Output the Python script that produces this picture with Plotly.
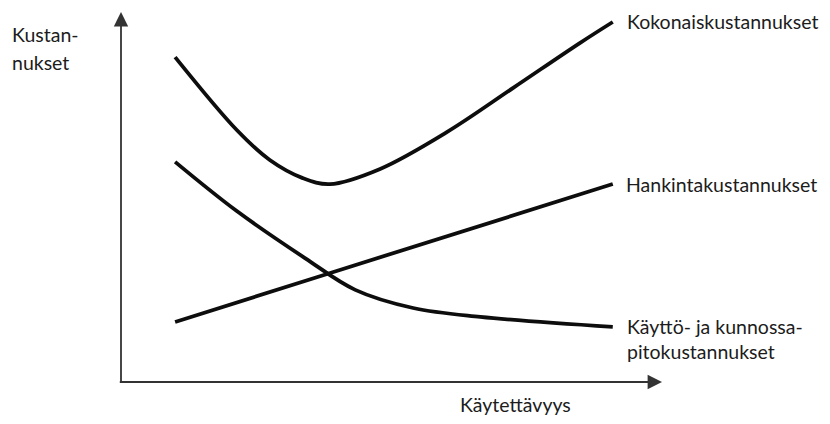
import plotly.graph_objects as go

# Data (abstract units)
total_x = [1.00, 2.14, 2.75, 3.36, 3.86, 4.79, 6.03, 7.25, 8.48, 9.09]
total_y = [8.78, 6.81, 6.00, 5.51, 5.35, 5.76, 6.76, 7.95, 9.16, 9.73]

oper_x = [1.00, 2.14, 3.40, 4.33, 5.40, 6.64, 9.09]
oper_y = [5.95, 4.62, 3.35, 2.49, 2.00, 1.76, 1.49]

acq_x = [1.00, 3.81, 9.09]
acq_y = [1.62, 2.92, 5.35]

labels = {
    "total": "Kokonaiskustannukset",
    "acq": "Hankintakustannukset",
    "oper": "Käyttö- ja kunnossa-<br>pitokustannukset",
    "ylab1": "Kustan-",
    "ylab2": "nukset",
    "xlab": "Käytettävyys",
}

FONT = "Lato"
TXT = "#1c1c1c"
LINE = "#0d0d0d"

fig = go.Figure()
for xs, ys in [(total_x, total_y), (oper_x, oper_y), (acq_x, acq_y)]:
    fig.add_trace(go.Scatter(
        x=xs, y=ys, mode="lines",
        line=dict(color=LINE, width=3.8, shape="spline", smoothing=1.0),
        hoverinfo="skip", showlegend=False,
    ))

# Axes with arrows
fig.add_annotation(x=10, y=0, ax=-0.05, ay=0, xref="x", yref="y", axref="x", ayref="y",
                   text="", showarrow=True, arrowhead=2, arrowsize=1.6, arrowwidth=1.8,
                   arrowcolor="#333333", standoff=0)
fig.add_annotation(x=0, y=10, ax=0, ay=-0.05, xref="x", yref="y", axref="x", ayref="y",
                   text="", showarrow=True, arrowhead=2, arrowsize=1.6, arrowwidth=1.8,
                   arrowcolor="#333333", standoff=0)

font = dict(family=FONT, size=19.5, color=TXT)
fig.add_annotation(x=9.32, y=9.73, xref="x", yref="y", text=labels["total"], showarrow=False,
                   xanchor="left", yanchor="middle", font=font)
fig.add_annotation(x=9.29, y=5.35, xref="x", yref="y", text=labels["acq"], showarrow=False,
                   xanchor="left", yanchor="middle", font=font)
fig.add_annotation(x=9.31, y=1.16, xref="x", yref="y", text=labels["oper"], showarrow=False,
                   xanchor="left", yanchor="middle", align="left", font=font)
fig.add_annotation(x=-0.205, y=0.940, xref="paper", yref="paper", text=labels["ylab1"], showarrow=False,
                   xanchor="left", yanchor="middle", font=font)
fig.add_annotation(x=-0.205, y=0.863, xref="paper", yref="paper", text=labels["ylab2"], showarrow=False,
                   xanchor="left", yanchor="middle", font=font)
fig.add_annotation(x=0.730, y=-0.062, xref="paper", yref="paper", text=labels["xlab"], showarrow=False,
                   xanchor="center", yanchor="middle", font=font)

fig.update_xaxes(range=[0, 10], visible=False, fixedrange=True)
fig.update_yaxes(range=[0, 10], visible=False, fixedrange=True)
fig.update_layout(
    width=814, height=408,
    margin=dict(l=113, r=160, t=4, b=34),
    paper_bgcolor="white", plot_bgcolor="white",
    showlegend=False,
)
fig.write_html("out.html")
